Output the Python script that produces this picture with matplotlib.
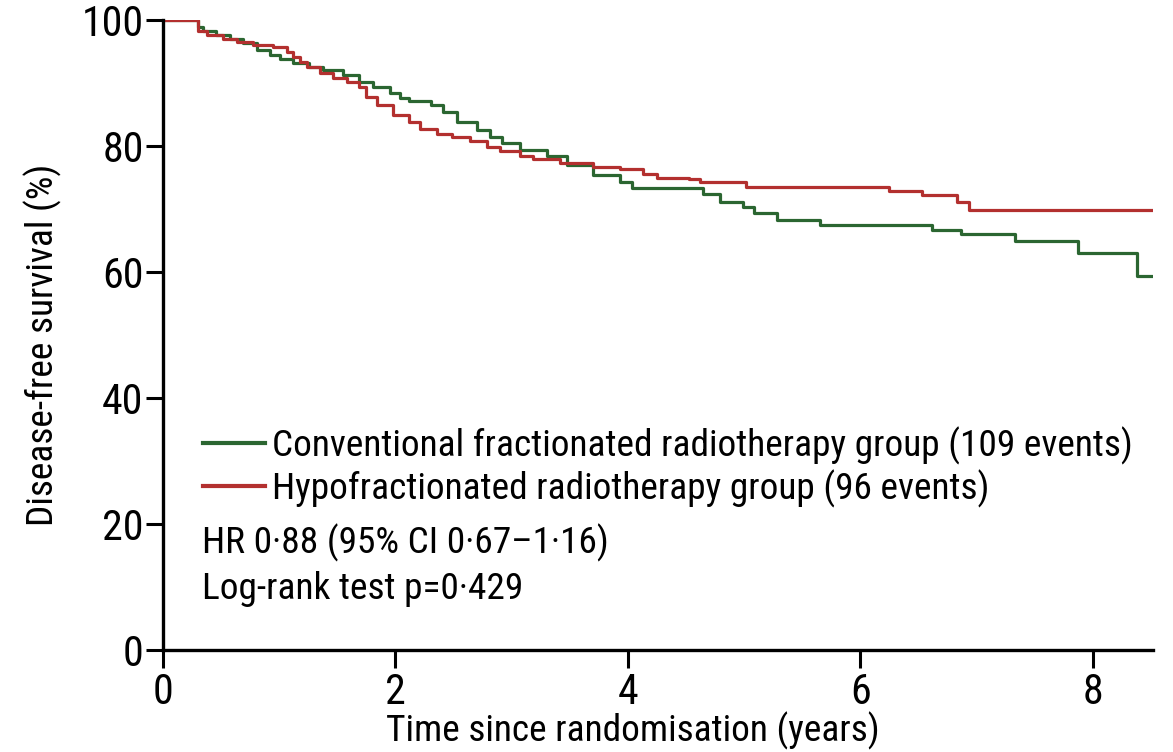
import matplotlib
matplotlib.use("Agg")
import matplotlib.pyplot as plt
from matplotlib import font_manager as fm

# Kaplan-Meier step data (years, % disease-free)
conv_t = [0, 0.30, 0.34, 0.46, 0.58, 0.69, 0.81, 0.92, 1.01, 1.12, 1.26, 1.38, 1.55,
          1.69, 1.81, 1.95, 2.04, 2.12, 2.31, 2.41, 2.53, 2.70, 2.81, 2.92, 3.07,
          3.30, 3.48, 3.70, 3.93, 4.04, 4.65, 4.79, 4.99, 5.09, 5.28, 5.65, 6.62,
          6.87, 7.33, 7.87, 8.38, 8.52]
conv_s = [100, 98.9, 98.3, 97.6, 97.0, 96.3, 95.2, 94.4, 93.8, 93.2, 92.5, 92.1, 91.3,
          90.2, 89.4, 88.4, 87.6, 87.1, 86.5, 85.4, 83.8, 82.5, 81.4, 80.5, 79.4,
          78.4, 77.0, 75.4, 74.3, 73.3, 72.4, 71.1, 70.3, 69.4, 68.3, 67.5, 66.7,
          66.0, 64.9, 63.0, 59.4, 59.4]

hypo_t = [0, 0.30, 0.38, 0.52, 0.64, 0.77, 0.95, 1.07, 1.12, 1.18, 1.24, 1.35, 1.46,
          1.58, 1.69, 1.75, 1.84, 1.98, 2.12, 2.21, 2.36, 2.49, 2.64, 2.79, 2.90,
          3.07, 3.18, 3.42, 3.70, 3.93, 4.13, 4.25, 4.53, 4.62, 5.02, 6.25, 6.53,
          6.83, 6.94, 8.52]
hypo_s = [100, 98.3, 97.6, 97.0, 96.5, 96.0, 95.7, 94.9, 94.1, 93.3, 92.5, 91.6, 90.8,
          90.2, 89.4, 87.8, 86.5, 84.9, 83.8, 82.7, 81.9, 81.4, 80.8, 79.8, 79.2,
          78.4, 77.9, 77.3, 76.7, 76.3, 75.6, 75.0, 74.8, 74.3, 73.5, 72.9, 72.2,
          71.1, 69.8, 69.8]

conv_label = 'Conventional fractionated radiotherapy group (109 events)'
hypo_label = 'Hypofractionated radiotherapy group (96 events)'
x_ticks = [0, 2, 4, 6, 8]
y_ticks = [0, 20, 40, 60, 80, 100]

green = "#2b6631"
red = "#b3302f"

# look for a narrow/condensed face, the original uses a condensed sans
prefs = ['liberation sans narrow', 'roboto condensed', 'dejavu sans condensed',
         'open sans condensed', 'noto sans condensed', 'arial narrow']
found = None
for p in prefs:
    for f in fm.fontManager.ttflist:
        fam = f.name.lower()
        path = f.fname.lower().replace('-', ' ').replace('_', ' ')
        if f.style == 'normal' and f.weight in (400, 'normal', 'regular') and \
                (fam == p or p.replace(' ', '') in path.replace(' ', '')):
            found = f
            break
    if found:
        break
if found is None:
    for f in fm.fontManager.ttflist:
        if f.style == 'normal' and f.weight in (400, 'normal', 'regular') and \
                ('condensed' in str(f.stretch) or 'narrow' in f.fname.lower()
                 or 'condensed' in f.fname.lower()):
            found = f
            break

if found is not None:
    fm.fontManager.addfont(found.fname)
    plt.rcParams['font.family'] = [found.name, 'DejaVu Sans']
    plt.rcParams['font.stretch'] = found.stretch
else:
    plt.rcParams['font.family'] = ['DejaVu Sans']

fig = plt.figure(figsize=(11.73, 7.52), dpi=100)
ax = fig.add_axes([0.139, 0.1356, 0.844, 0.8378])

# calibrate text size so the long legend entry spans ~863 px as in the original
probe = fig.text(0, 0, conv_label, fontsize=24)
fig.canvas.draw()
w = probe.get_window_extent().width
probe.remove()
fs = 24 * 863.0 / w
fs_tick = fs * 1.12
fs_px = fs * 100 / 72

ax.step(conv_t, conv_s, where='post', color=green, lw=2.3, label=conv_label)
ax.step(hypo_t, hypo_s, where='post', color=red, lw=2.3, label=hypo_label)

ax.set_xlim(0, 8.52)
ax.set_ylim(0, 100)
ax.set_xticks(x_ticks)
ax.set_yticks(y_ticks)

for side in ['top', 'right']:
    ax.spines[side].set_visible(False)
for side in ['left', 'bottom']:
    ax.spines[side].set_linewidth(2.4)

ax.tick_params(axis='y', direction='out', length=12, width=2.2, labelsize=fs_tick, pad=2)
ax.tick_params(axis='x', direction='out', length=13, width=2.2, labelsize=fs_tick, pad=3)

ax.set_xlabel('Time since randomisation (years)', fontsize=fs)
ax.xaxis.set_label_coords(0.474, -0.118)
ax.set_ylabel('Disease-free survival (%)', fontsize=fs)
ax.yaxis.set_label_coords(-0.102, 0.484)

leg = ax.legend(loc='upper left', bbox_to_anchor=(0.025, 0.379), frameon=False,
                fontsize=fs, handlelength=62 / fs_px, handletextpad=0.2,
                labelspacing=max(0.02, 0.35 - 8 / fs_px), borderaxespad=0)
for line in leg.get_lines():
    line.set_linewidth(3)

ax.text(0.335, 15.4, 'HR 0·88 (95% CI 0·67–1·16)', fontsize=fs, va='baseline', ha='left')
ax.text(0.335, 8.1, 'Log-rank test p=0·429', fontsize=fs, va='baseline', ha='left')

# the original's x label runs off the bottom edge; keep ours just inside
fig.canvas.draw()
bb = ax.xaxis.label.get_window_extent()
if bb.y0 < 2:
    ax_h = ax.get_window_extent().height
    ax.xaxis.set_label_coords(0.474, -0.118 + (2 - bb.y0) / ax_h)

fig.savefig('out.png', dpi=100)
